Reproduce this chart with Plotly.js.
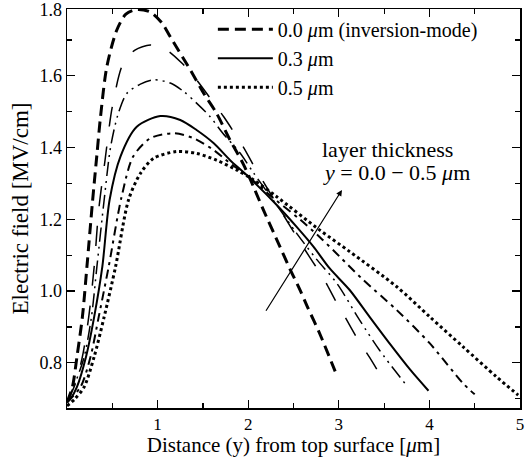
<!DOCTYPE html>
<html>
<head>
<meta charset="utf-8">
<script src="https://cdn.plot.ly/plotly-3.0.1.min.js"></script>
<style>html,body{margin:0;padding:0;background:#fff;}#chart{width:531px;height:457px;}</style>
</head>
<body>
<div id="chart"></div>
<script>
// Layer thickness 0.0 um (inversion-mode)
var x00 = [0, 0.06, 0.11, 0.17, 0.22, 0.28, 0.33, 0.37, 0.44, 0.55, 0.65, 0.77, 0.92, 1.05, 1.14, 1.36, 1.51, 1.65, 1.80, 1.95, 2.06, 2.17, 2.35, 2.46, 2.57, 2.65, 2.79, 2.96];
var y00 = [0.69, 0.733, 0.817, 0.928, 1.068, 1.245, 1.38, 1.486, 1.626, 1.728, 1.772, 1.785, 1.778, 1.747, 1.709, 1.617, 1.551, 1.496, 1.421, 1.352, 1.29, 1.225, 1.124, 1.062, 1.004, 0.958, 0.881, 0.776];
// 0.1 um
var x01 = [0, 0.09, 0.17, 0.24, 0.30, 0.35, 0.42, 0.50, 0.62, 0.75, 0.92, 1.10, 1.27, 1.43, 1.62, 1.73, 1.95, 2.06, 2.25, 2.50, 2.68, 2.83, 2.96, 3.07, 3.21, 3.34, 3.49];
var y01 = [0.69, 0.74, 0.817, 0.928, 1.068, 1.226, 1.365, 1.514, 1.635, 1.672, 1.686, 1.672, 1.635, 1.589, 1.524, 1.486, 1.40, 1.35, 1.27, 1.166, 1.094, 1.036, 0.975, 0.927, 0.865, 0.815, 0.752];
// 0.2 um
var x02 = [0, 0.10, 0.19, 0.27, 0.33, 0.41, 0.48, 0.56, 0.66, 0.81, 0.955, 1.14, 1.29, 1.43, 1.58, 1.72, 1.91, 2.06, 2.30, 2.535, 2.75, 2.98, 3.23, 3.45, 3.75];
var y02 = [0.69, 0.75, 0.817, 0.928, 1.068, 1.254, 1.40, 1.49, 1.551, 1.577, 1.589, 1.58, 1.556, 1.524, 1.486, 1.44, 1.385, 1.329, 1.245, 1.161, 1.09, 1.021, 0.919, 0.835, 0.736];
// 0.3 um
var x03 = [0, 0.04, 0.11, 0.21, 0.30, 0.39, 0.47, 0.59, 0.77, 1.03, 1.25, 1.43, 1.62, 1.80, 1.98, 2.315, 2.535, 2.72, 2.90, 3.12, 3.34, 3.56, 3.79, 3.99];
var y03 = [0.69, 0.70, 0.733, 0.817, 0.928, 1.068, 1.254, 1.375, 1.458, 1.488, 1.477, 1.449, 1.412, 1.365, 1.324, 1.24, 1.179, 1.124, 1.063, 1.003, 0.928, 0.854, 0.78, 0.722];
// 0.4 um
var x04 = [0, 0.15, 0.26, 0.35, 0.46, 0.60, 0.73, 0.92, 1.175, 1.40, 1.62, 1.80, 1.98, 2.25, 2.57, 2.80, 3.01, 3.27, 3.64, 4.005, 4.37, 4.50];
var y04 = [0.69, 0.733, 0.817, 0.928, 1.068, 1.26, 1.375, 1.426, 1.44, 1.426, 1.393, 1.356, 1.324, 1.265, 1.2, 1.148, 1.096, 1.031, 0.947, 0.854, 0.743, 0.712];
// 0.5 um
var x05 = [0, 0.09, 0.19, 0.30, 0.41, 0.536, 0.68, 0.81, 0.955, 1.21, 1.43, 1.65, 1.87, 2.06, 2.315, 2.79, 3.12, 3.64, 4.005, 4.37, 4.74, 4.98];
var y05 = [0.68, 0.70, 0.733, 0.817, 0.928, 1.068, 1.255, 1.328, 1.37, 1.389, 1.384, 1.365, 1.338, 1.31, 1.263, 1.17, 1.11, 1.012, 0.928, 0.845, 0.761, 0.71];

var seriesNames = ['0.0 <i>μ</i>m (inversion-mode)', '0.1 <i>μ</i>m', '0.2 <i>μ</i>m', '0.3 <i>μ</i>m', '0.4 <i>μ</i>m', '0.5 <i>μ</i>m'];
var xTickVals = [1, 2, 3, 4, 5];
var xTickText = ['1', '2', '3', '4', '5'];
var yTickVals = [0.8, 1.0, 1.2, 1.4, 1.6, 1.785];
var yTickText = ['0.8', '1.0', '1.2', '1.4', '1.6', '1.8'];

var FONT = '"Liberation Serif", "Times New Roman", serif';

function tr(x, y, name, width, dash, show) {
  return {x: x, y: y, name: name, type: 'scatter', mode: 'lines',
    line: {color: '#000', width: width, dash: dash, shape: 'spline', smoothing: 0.8},
    showlegend: show, hoverinfo: 'skip'};
}

var data = [
  tr(x00, y00, seriesNames[0], 3, '11px,6px', true),
  tr(x03, y03, seriesNames[3], 2, 'solid', true),
  tr(x05, y05, seriesNames[5], 3, '3px,3px', true),
  tr(x01, y01, seriesNames[1], 1.5, '20px,20px', false),
  tr(x02, y02, seriesNames[2], 1.5, '14px,5px,2px,5px,2px,5px', false),
  tr(x04, y04, seriesNames[4], 2, '9px,5px,3px,5px', false)
];

var axisCommon = {
  showline: true, linecolor: '#000', linewidth: 1.5, mirror: 'ticks',
  ticks: 'inside', ticklen: 8, tickwidth: 1.2, tickcolor: '#000',
  showgrid: false, zeroline: false, ticklabeloverflow: 'allow',
  tickfont: {family: FONT, size: 18, color: '#000'}
};

var layout = {
  width: 531, height: 457,
  margin: {l: 67, r: 11, t: 9, b: 49},
  paper_bgcolor: '#fff', plot_bgcolor: '#fff',
  font: {family: FONT, color: '#000'},
  xaxis: Object.assign({}, axisCommon, {
    range: [0, 5], tickmode: 'array', tickvals: xTickVals, ticktext: xTickText,
    tickfont: {family: FONT, size: 17, color: '#000'},
    minor: {tickmode: 'linear', tick0: 0.5, dtick: 1, ticklen: 5, ticks: 'inside', tickcolor: '#000', tickwidth: 1.2},
    title: {text: 'Distance (y) from top surface [<i>μ</i>m]', font: {family: FONT, size: 21, color: '#000'}, standoff: 8}
  }),
  yaxis: Object.assign({}, axisCommon, {
    range: [0.674, 1.7865], tickmode: 'array', tickvals: yTickVals, ticktext: yTickText,
    minor: {tickmode: 'linear', tick0: 0.7, dtick: 0.2, ticklen: 5, ticks: 'inside', tickcolor: '#000', tickwidth: 1.2},
    title: {text: 'Electric field [MV/cm]', font: {family: FONT, size: 23, color: '#000'}, standoff: 4}
  }),
  legend: {
    x: 0.322, y: 0.998, xanchor: 'left', yanchor: 'top',
    bgcolor: 'rgba(0,0,0,0)', borderwidth: 0,
    font: {family: FONT, size: 20, color: '#000'},
    itemwidth: 55, tracegroupgap: 0
  },
  annotations: [
    {x: 2.79, y: 1.396, xref: 'x', yref: 'y', xanchor: 'left', yanchor: 'middle',
     text: 'layer thickness', showarrow: false, font: {family: FONT, size: 22, color: '#000'}},
    {x: 2.80, y: 1.332, xref: 'x', yref: 'y', xanchor: 'left', yanchor: 'middle',
     text: '<i>y</i> = 0.0 − 0.5 <i>μ</i>m', showarrow: false, font: {family: FONT, size: 22, color: '#000'}},
    {x: 3.035, y: 1.282, xref: 'x', yref: 'y', ax: 2.186, ay: 0.941, axref: 'x', ayref: 'y',
     text: '', showarrow: true, arrowhead: 2, arrowsize: 1, arrowwidth: 1.2, arrowcolor: '#000', standoff: 0}
  ]
};

Plotly.newPlot('chart', data, layout, {staticPlot: true, displayModeBar: false});
</script>
</body>
</html>
